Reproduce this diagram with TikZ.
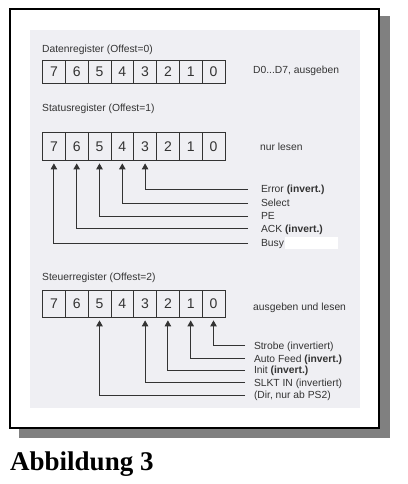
\documentclass[tikz,border=0pt]{standalone}
\usepackage{fontspec}
\setmainfont{Liberation Sans}
\newfontfamily\capfont{Liberation Serif}
\usetikzlibrary{arrows.meta,positioning}
\definecolor{scanbg}{RGB}{239,239,243}
\definecolor{shadowgray}{RGB}{128,128,128}
\colorlet{ink}{black!80}

\begin{document}
\begin{tikzpicture}[x=1pt, y=-1pt,
    cell/.style={draw=ink, line width=0.8pt, minimum width=22.8pt, minimum height=#1,
      inner sep=0, text=ink, font=\fontsize{14}{14}\selectfont, text height=10pt, text depth=0pt},
    cell/.default=23pt,
    txt/.style={inner sep=0, anchor=west, text=ink, font=\fontsize{10.3}{12}\selectfont,
      text height=7.4pt, text depth=0pt},
    sig/.style={txt, outer xsep=#1},
    arr/.style={-{Triangle[length=6pt,width=6.5pt]}, line width=0.9pt, draw=ink, shorten >=3pt}]
  \useasboundingbox (0,0) rectangle (407,484);
  % Frame with shadow and scanned page
  \fill[shadowgray] (19,16) rectangle (390,438);
  \draw[line width=2.5pt, fill=white] (10,9) rectangle (379,428);
  \fill[scanbg] (30,30) rectangle (360,408);
  % Datenregister
  \node[txt] (tDaten) at (42,49) {Datenregister (Offest=0)};
  \foreach \b [count=\i from 0] in {7,6,...,0}
    \node[cell=23pt] (d\b) at ({53.9+22.8*\i},71.5) {\b};
  \node[txt] (rDaten) at (253,70) {D0...D7, ausgeben};
  % Statusregister
  \node[txt] (tStatus) at (42,108) {Statusregister (Offest=1)};
  \foreach \b [count=\i from 0] in {7,6,...,0}
    \node[cell=28pt] (s\b) at ({53.9+22.8*\i},146) {\b};
  \node[txt] (rStatus) at (260,147) {nur lesen};
  \node[sig=13pt] (sError) at (248,189) {Error {\bfseries(invert.)}};
  \node[sig=13pt] (sSelect) at (248,203) {Select};
  \node[sig=13pt] (sPE) at (248,216) {PE};
  \node[sig=13pt] (sAck) at (248,228.5) {ACK {\bfseries(invert.)}};
  \node[sig=13pt] (sBusy) at (248,243) {Busy};
  \fill[white] (285,236.5) rectangle (338,249);
  \draw[arr] (sError.west) -| (s3.south);
  \draw[arr] (sSelect.west) -| (s4.south);
  \draw[arr] (sPE.west) -| (s5.south);
  \draw[arr] (sAck.west) -| (s6.south);
  \draw[arr] (sBusy.west) -| (s7.south);
  % Steuerregister
  \node[txt] (tSteuer) at (42,277) {Steuerregister (Offest=2)};
  \foreach \b [count=\i from 0] in {7,6,...,0}
    \node[cell=27pt] (c\b) at ({53.9+22.8*\i},303.5) {\b};
  \node[txt] (rSteuer) at (253,307) {ausgeben und lesen};
  \node[sig=9pt] (cStrobe) at (245,345.7) {Strobe (invertiert)};
  \node[sig=9pt] (cAuto) at (245,358.3) {Auto Feed {\bfseries(invert.)}};
  \node[sig=9pt] (cInit) at (245,370) {Init {\bfseries(invert.)}};
  \node[sig=9pt] (cSlkt) at (245,382.3) {SLKT IN (invertiert)};
  \node[sig=9pt] (cDir) at (245,395) {(Dir, nur ab PS2)};
  \draw[arr] (cStrobe.west) -| (c0.south);
  \draw[arr] (cAuto.west) -| (c1.south);
  \draw[arr] (cInit.west) -| (c2.south);
  \draw[arr] (cSlkt.west) -| (c3.south);
  \draw[arr] (cDir.west) -| (c5.south);
  % Caption
  \node[anchor=base west, inner sep=0, font={\capfont\bfseries\fontsize{27}{27}\selectfont}] (caption) at (10,470.7) {Abbildung 3};
\end{tikzpicture}
\end{document}
